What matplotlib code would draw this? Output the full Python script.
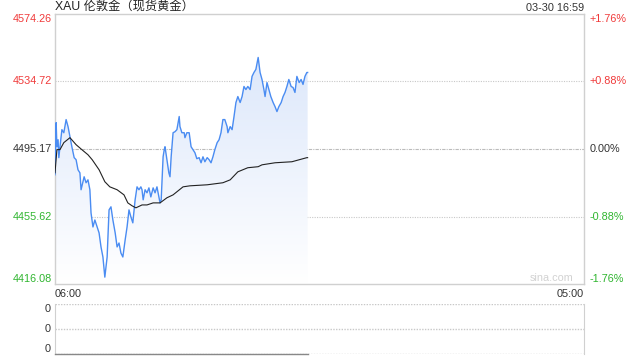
import numpy as np
import matplotlib
matplotlib.use('Agg')
import matplotlib.pyplot as plt
from matplotlib.colors import LinearSegmentedColormap
from matplotlib.patches import Polygon

plt.rcParams['font.family'] = ['Liberation Sans', 'Noto Sans CJK SC', 'DejaVu Sans']

title = 'XAU 伦敦金（现货黄金）'
stamp = '03-30 16:59'
prev_close = 4495.17
y_ticks = [4574.26, 4534.72, 4495.17, 4455.62, 4416.08]
pct_labels = ['+1.76%', '+0.88%', '0.00%', '-0.88%', '-1.76%']
x_labels = ['06:00', '05:00']
total_minutes = 1380  # 06:00 -> 05:00 next day

# minutes after 06:00, price
price_t = [0, 3, 5, 8, 10, 13, 18, 23, 29, 34, 39, 44, 50, 55, 60, 65, 68, 76, 81, 86,
           91, 94, 99, 104, 110, 115, 120, 125, 130, 136, 141, 146, 151, 157, 162, 167,
           172, 177, 183, 188, 193, 198, 203, 209, 214, 219, 224, 227, 230, 235, 240,
           245, 250, 256, 261, 266, 271, 274, 277, 282, 285, 287, 292, 297, 300, 303,
           308, 313, 318, 324, 326, 331, 337, 339, 344, 350, 355, 360, 365, 370, 376,
           381, 386, 391, 397, 402, 407, 412, 417, 423, 428, 433, 438, 443, 449, 451,
           457, 462, 467, 472, 477, 483, 488, 493, 498, 503, 509, 514, 519, 524, 530,
           535, 540, 545, 548, 553, 558, 563, 569, 574, 579, 584, 590, 595, 600, 605,
           610, 616, 621, 626, 631, 637, 642, 647, 652, 657, 659]
price = [4480.1, 4510.6, 4496.5, 4500.6, 4490.1, 4496.5, 4506.5, 4504.7, 4512.4, 4508.3,
         4502.4, 4496.5, 4490.1, 4488.9, 4483.0, 4481.2, 4471.3, 4478.9, 4475.4, 4477.1,
         4471.3, 4457.7, 4449.5, 4453.6, 4449.5, 4446.0, 4437.8, 4431.9, 4420.1, 4431.9,
         4459.5, 4461.3, 4453.6, 4446.0, 4437.8, 4440.1, 4434.2, 4431.9, 4441.9, 4449.5,
         4459.5, 4455.4, 4451.9, 4465.4, 4473.0, 4471.3, 4473.0, 4471.3, 4465.4, 4471.3,
         4469.5, 4472.4, 4467.1, 4472.4, 4469.5, 4473.0, 4467.1, 4463.6, 4465.4, 4490.6,
         4494.8, 4496.5, 4488.9, 4481.2, 4478.9, 4490.6, 4504.7, 4505.3, 4506.5, 4514.2,
         4508.3, 4504.7, 4504.7, 4501.8, 4504.7, 4504.7, 4496.5, 4494.8, 4493.0, 4489.5,
         4490.1, 4487.1, 4490.6, 4487.7, 4490.1, 4488.9, 4487.1, 4490.6, 4494.8, 4498.9,
         4500.6, 4504.7, 4512.4, 4512.4, 4508.3, 4504.7, 4508.3, 4506.5, 4514.2, 4522.4,
         4525.9, 4522.4, 4525.9, 4531.8, 4530.0, 4531.8, 4530.0, 4537.7, 4540.0, 4541.8,
         4548.8, 4540.0, 4535.9, 4530.0, 4525.9, 4534.1, 4530.0, 4525.9, 4522.4, 4520.0,
         4517.1, 4520.0, 4522.4, 4525.9, 4528.3, 4531.8, 4535.9, 4531.8, 4531.2, 4528.3,
         4537.7, 4534.1, 4535.9, 4533.0, 4537.7, 4540.0, 4540.0]

# average price line
avg_t = [0, 5, 13, 23, 39, 55, 70, 86, 97, 115, 130, 143, 162, 180, 190, 201, 211, 227,
         240, 256, 274, 292, 308, 334, 352, 397, 438, 457, 477, 503, 530, 540, 574, 618,
         657, 659]
avg = [4481.2, 4494.8, 4494.8, 4498.9, 4501.8, 4497.7, 4494.8, 4491.8, 4488.9, 4483.0,
       4476.0, 4473.0, 4471.3, 4468.3, 4463.6, 4461.9, 4460.7, 4462.4, 4462.4, 4463.6,
       4463.6, 4466.6, 4468.3, 4473.0, 4473.6, 4474.2, 4475.4, 4477.1, 4481.8, 4484.2,
       4484.8, 4485.9, 4487.1, 4487.7, 4490.1, 4490.1]

RED = '#f03a3a'
GREEN = '#2fb52f'
DARK = '#333333'
SPINE = '#d0d0d0'

fig = plt.figure(figsize=(6.4, 3.6), dpi=100)
ax = fig.add_axes([55 / 640, 1 - 284 / 360, 529 / 640, 270 / 360])
ymin, ymax = y_ticks[-1], y_ticks[0]
ax.set_xlim(0, total_minutes)
ax.set_ylim(ymin, ymax)
ax.set_xticks([])
ax.set_yticks([])
for s in ax.spines.values():
    s.set_color(SPINE)
    s.set_linewidth(1)

# gridlines
for v in y_ticks[1:-1]:
    if v == prev_close:
        ax.axhline(v, color='#bbbbbb', lw=0.8, ls=(0, (3, 1, 1, 1)), zorder=1)
    else:
        ax.axhline(v, color='#c8c8c8', lw=0.8, ls=(0, (1, 1.2)), zorder=1)

# gradient area under price
cmap = LinearSegmentedColormap.from_list('fill', ['#ffffff', '#d6e3fa'])
grad = np.linspace(0, 1, 256).reshape(-1, 1)
im = ax.imshow(grad, cmap=cmap, origin='lower', aspect='auto',
               extent=(0, price_t[-1], ymin, ymax), zorder=2)
poly = Polygon(list(zip(price_t, price)) + [(price_t[-1], ymin), (0, ymin)],
               closed=True, transform=ax.transData, facecolor='none', edgecolor='none')
ax.add_patch(poly)
im.set_clip_path(poly)

ax.plot(price_t, price, color='#4a8cf2', lw=1.0, zorder=4)
ax.plot(avg_t, avg, color='#222222', lw=0.8, zorder=5)

# axis labels
ytr = ax.get_yaxis_transform()
for i, (v, p) in enumerate(zip(y_ticks, pct_labels)):
    if v > prev_close:
        c = RED
    elif v < prev_close:
        c = GREEN
    else:
        c = DARK
    va = 'top' if i == 0 else ('bottom' if i == len(y_ticks) - 1 else 'center')
    ax.annotate('%.2f' % v, xy=(0, v), xycoords=ytr, xytext=(-3, 0),
                textcoords='offset pixels', ha='right', va=va, fontsize=7.8, color=c)
    ax.annotate(p, xy=(1, v), xycoords=ytr, xytext=(6, 0),
                textcoords='offset pixels', ha='left', va=va, fontsize=7.8, color=c)

ax.text(0, -0.018, x_labels[0], transform=ax.transAxes, ha='left', va='top',
        fontsize=7.8, color=DARK)
ax.text(1, -0.018, x_labels[1], transform=ax.transAxes, ha='right', va='top',
        fontsize=7.8, color=DARK)
ax.text(0.98, 0.004, 'sina.com', transform=ax.transAxes, ha='right', va='bottom',
        fontsize=7.8, color='#d2d2d2')

fig.text(55 / 640, 1 - 8 / 360, title, ha='left', va='center', fontsize=8.8, color='#222222')
fig.text(584 / 640, 1 - 8 / 360, stamp, ha='right', va='center', fontsize=7.8, color=DARK)

# volume panel (empty)
vax = fig.add_axes([55 / 640, 1 - 354 / 360, 529 / 640, 50 / 360])
vax.set_xlim(0, total_minutes)
vax.set_ylim(0, 2)
vax.set_xticks([])
vax.set_yticks([])
for side in ['top', 'bottom']:
    vax.spines[side].set_visible(False)
for side in ['left', 'right']:
    vax.spines[side].set_color(SPINE)
for v in [0, 1, 2]:
    vax.axhline(v, color='#c8c8c8', lw=1.0, ls=(0, (1, 1)), zorder=1)
vax.plot([0, price_t[-1]], [0, 0], color='#888888', lw=1.0, zorder=3, clip_on=False)
vtr = vax.get_yaxis_transform()
for v in [0, 1, 2]:
    vax.annotate('0', xy=(0, v), xycoords=vtr, xytext=(-4, 0), textcoords='offset pixels',
                 ha='right', va='center' if v == 1 else ('bottom' if v == 0 else 'top'),
                 fontsize=7.8, color=DARK)

fig.savefig('out.png', dpi=100)
